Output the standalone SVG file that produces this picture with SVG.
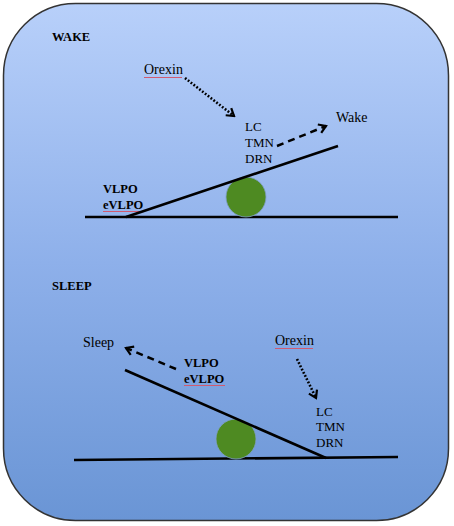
<svg xmlns="http://www.w3.org/2000/svg" width="454" height="526" viewBox="0 0 454 526">
<defs>
<linearGradient id="bg" x1="0" y1="0" x2="0" y2="1">
<stop offset="0" stop-color="#b8d0fa"/>
<stop offset="0.5" stop-color="#8eb0ea"/>
<stop offset="1" stop-color="#6a95d5"/>
</linearGradient>
<marker id="head" viewBox="0 0 12 12" refX="10" refY="6" markerWidth="12" markerHeight="12" orient="auto" markerUnits="userSpaceOnUse">
<path d="M3,1.5 L10,6 L3,10.5" fill="none" stroke="#000" stroke-width="2.2" stroke-linejoin="miter"/>
</marker>
</defs>
<style>
.t{font-family:"Liberation Serif","Times New Roman",serif;fill:#000;}
.n{font-size:14px;}
.u{font-size:13px;}
.b{font-size:12.5px;font-weight:bold;}
.bar{stroke:#000;stroke-width:2.6;fill:none;stroke-linecap:butt;}
.dash{stroke:#000;stroke-width:2.5;fill:none;stroke-dasharray:7 5;}
.dot{stroke:#000;stroke-width:2.6;fill:none;stroke-dasharray:1.8 1.8;}
.sq{stroke:#d05a70;stroke-width:1.1;fill:none;}
.ball{fill:#4e8a22;stroke:#7fa0c8;stroke-width:0.8;}
</style>
<rect x="3.5" y="3.5" width="445" height="517" rx="72" ry="72" fill="url(#bg)" stroke="#333" stroke-width="1.5"/>

<g id="wake-panel">
<text class="t b" x="52" y="41">WAKE</text>
</g>
<g id="orexin-wake"><text class="t n" x="144" y="74">Orexin</text><path class="sq" d="M144,77.5 L182,77.5"/></g>
<g id="monoamine-wake"><text class="t u" x="245" y="131">LC</text><text class="t u" x="245" y="147">TMN</text><text class="t u" x="245" y="163">DRN</text></g>
<g id="wake-label"><text class="t n" x="336" y="122">Wake</text></g>
<g id="vlpo-wake"><text class="t b" x="103" y="193">VLPO</text><text class="t b" x="103" y="209">eVLPO</text><path class="sq" d="M103,211.5 L144,211.5"/></g>
<g id="seesaw-wake">
<line class="bar" x1="85" y1="217" x2="398" y2="217"/>
<circle class="ball" cx="246" cy="197" r="20"/>
<line class="bar" x1="126" y1="217" x2="338" y2="146"/>
</g>

<g id="sleep-panel">
<text class="t b" x="52" y="290">SLEEP</text>
</g>
<g id="sleep-label"><text class="t n" x="83" y="347">Sleep</text></g>
<g id="vlpo-sleep"><text class="t b" x="184" y="367">VLPO</text><text class="t b" x="184" y="383">eVLPO</text><path class="sq" d="M184,385.5 L225,385.5"/></g>
<g id="orexin-sleep"><text class="t n" x="275" y="345">Orexin</text><path class="sq" d="M275,348.5 L313,348.5"/></g>
<g id="monoamine-sleep"><text class="t u" x="316" y="416">LC</text><text class="t u" x="316" y="431">TMN</text><text class="t u" x="316" y="447">DRN</text></g>
<g id="seesaw-sleep">
<line class="bar" x1="74" y1="460" x2="398" y2="457"/>
<circle class="ball" cx="236" cy="439" r="20"/>
<line class="bar" x1="125" y1="370" x2="326" y2="458"/>
</g>

<g id="connectors">
<path class="dot" d="M185,78 L234,116" marker-end="url(#head)"/>
<path class="dash" d="M277,146 L326,126" marker-end="url(#head)"/>
<path class="dash" d="M176,369 L126,348" marker-end="url(#head)"/>
<path class="dot" d="M297,359 L316,398" marker-end="url(#head)"/>
</g>
</svg>
